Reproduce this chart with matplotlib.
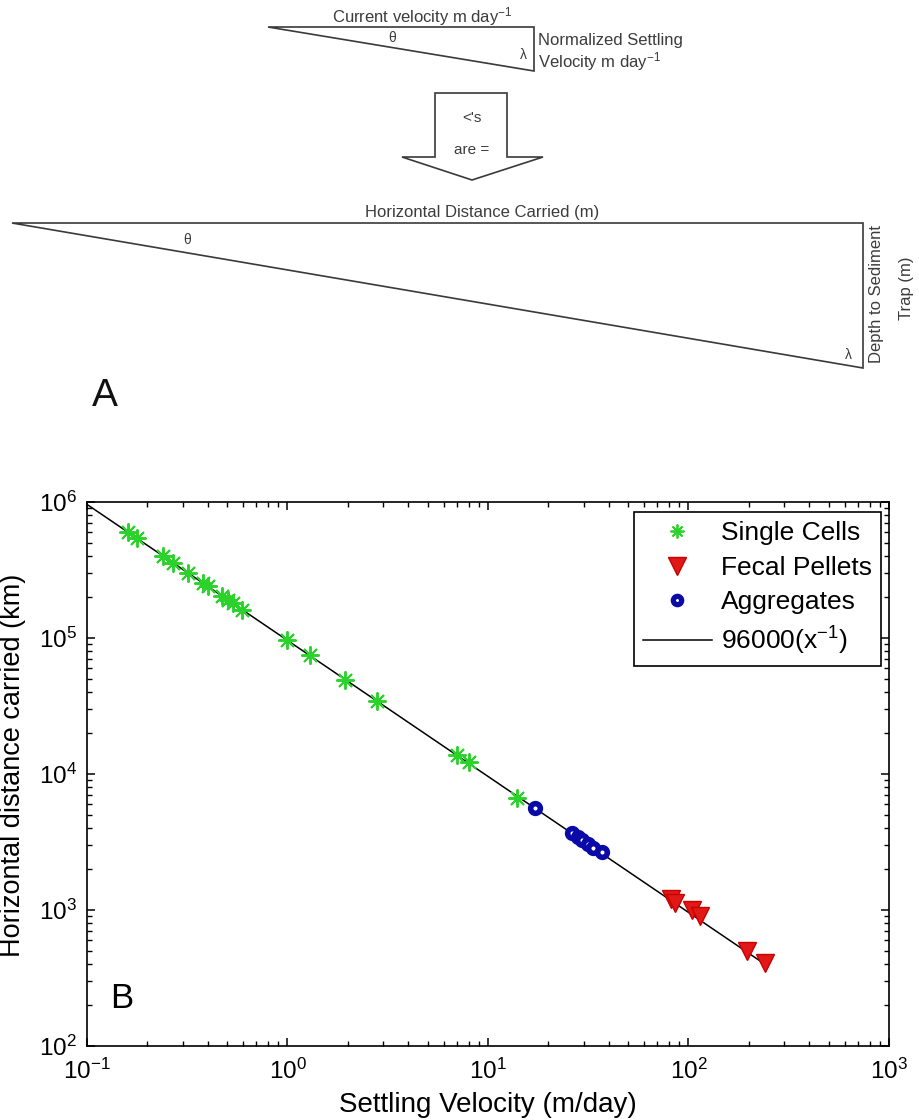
import matplotlib
matplotlib.use("Agg")
import matplotlib.pyplot as plt
from matplotlib.patches import Polygon
from matplotlib.lines import Line2D
from matplotlib.ticker import LogLocator, NullFormatter

plt.rcParams['font.family'] = ['Liberation Sans', 'DejaVu Sans']
plt.rcParams['mathtext.default'] = 'regular'

# ---------------- data (panel B) ----------------
single_x = [0.160, 0.177, 0.239, 0.269, 0.319, 0.379, 0.401, 0.471, 0.505,
            0.534, 0.593, 0.994, 1.29, 1.94, 2.79, 7.0, 8.0, 14.0]
single_y = [600000, 540000, 400000, 355000, 300000, 253000, 240000, 205000,
            190000, 180000, 162000, 96500, 74500, 49500, 34500, 13800, 12200, 6700]

fecal_x = [82, 86, 104, 114, 196, 240]
fecal_y = [1200, 1130, 1000, 900, 500, 410]

agg_x = [17.1, 26.2, 28.0, 29.6, 31.5, 33.5, 37.0]
agg_y = [5650, 3700, 3450, 3250, 3050, 2870, 2650]

fit_coef = 96000
fit_x = [0.1, 240]

legend_labels = ['Single Cells', 'Fecal Pellets', 'Aggregates', '96000(x$^{-1}$)']
xlabel = 'Settling Velocity (m/day)'
ylabel = 'Horizontal distance carried (km)'

# ---------------- figure ----------------
W, H = 920, 1120
fig = plt.figure(figsize=(W / 100, H / 100), dpi=100)

# diagram layer (pixel coordinates)
axd = fig.add_axes([0, 0, 1, 1])
axd.set_xlim(0, W)
axd.set_ylim(H, 0)
axd.axis('off')

dcol = '#3a3a3a'
tcol = '#3c3c3c'
small_tri = [(268, 27), (534, 27), (534, 71)]
big_tri = [(12, 223), (863, 223), (863, 368)]
arrow_pts = [(435, 93), (507, 93), (507, 157), (543, 157), (472, 180),
             (402, 157), (435, 157)]
for pts in (small_tri, big_tri):
    axd.add_patch(Polygon(pts, closed=True, fill=False, edgecolor=dcol, lw=1.2))
axd.add_patch(Polygon(arrow_pts, closed=True, facecolor='white',
                      edgecolor=dcol, lw=1.2))

tfs = 12
axd.text(422, 17, 'Current velocity m day$^{-1}$', ha='center', va='center',
         fontsize=tfs, color=tcol)
axd.text(392, 38, 'θ', ha='center', va='center', fontsize=10, color=tcol)
axd.text(523, 55, 'λ', ha='center', va='center', fontsize=10, color=tcol)
axd.text(538, 40, 'Normalized Settling', ha='left', va='center', fontsize=tfs,
         color=tcol)
axd.text(538, 62, 'Velocity m day$^{-1}$', ha='left', va='center', fontsize=tfs,
         color=tcol)
axd.text(472, 118, "<'s", ha='center', va='center', fontsize=11, color=tcol)
axd.text(472, 150, 'are =', ha='center', va='center', fontsize=11, color=tcol)

axd.text(482, 212, 'Horizontal Distance Carried (m)', ha='center', va='center',
         fontsize=tfs, color=tcol)
axd.text(187, 240, 'θ', ha='center', va='center', fontsize=10, color=tcol)
axd.text(848, 355, 'λ', ha='center', va='center', fontsize=10, color=tcol)
axd.text(877, 294, 'Depth to Sediment', ha='center', va='center', rotation=90,
         fontsize=tfs, color=tcol)
axd.text(907, 288, 'Trap (m)', ha='center', va='center', rotation=90,
         fontsize=tfs, color=tcol)
axd.text(105, 396, 'A', ha='center', va='center', fontsize=28, color='#111111')

# ---------------- panel B ----------------
L, R, T, B = 87, 889, 502, 1046
ax = fig.add_axes([L / W, 1 - B / H, (R - L) / W, (B - T) / H])
ax.set_xscale('log')
ax.set_yscale('log')
ax.set_xlim(0.1, 1000)
ax.set_ylim(100, 1e6)

green = '#2bd22b'
red_face, red_edge = '#e01818', '#c80000'
blue = '#0a0aa8'

fit_y = [fit_coef / v for v in fit_x]
ax.plot(fit_x, fit_y, color='black', lw=1.1, zorder=2)
ax.plot(single_x, single_y, linestyle='none', marker=(8, 2, 0), markersize=13,
        markeredgewidth=1.4, color=green, zorder=3)
ax.plot(fecal_x, fecal_y, linestyle='none', marker='v', markersize=13,
        markerfacecolor=red_face, markeredgecolor=red_edge,
        markeredgewidth=1.0, zorder=3)
ax.plot(agg_x, agg_y, linestyle='none', marker='o', markersize=7,
        markerfacecolor='white', markeredgecolor=blue,
        markeredgewidth=4.0, zorder=4)

for sp in ax.spines.values():
    sp.set_linewidth(1.2)
    sp.set_color('black')

ax.xaxis.set_major_locator(LogLocator(base=10, numticks=10))
ax.yaxis.set_major_locator(LogLocator(base=10, numticks=10))
ax.xaxis.set_minor_locator(LogLocator(base=10, subs=range(2, 10), numticks=20))
ax.yaxis.set_minor_locator(LogLocator(base=10, subs=range(2, 10), numticks=20))
ax.xaxis.set_minor_formatter(NullFormatter())
ax.yaxis.set_minor_formatter(NullFormatter())
ax.tick_params(which='both', direction='in', top=True, right=True,
               colors='black', labelsize=17.5)
ax.tick_params(which='major', length=6, width=1.1)
ax.tick_params(which='minor', length=3.3, width=1.0)
ax.tick_params(axis='x', which='major', pad=9)
ax.tick_params(axis='y', which='major', pad=7)

ax.set_xlabel(xlabel, fontsize=20)
ax.set_ylabel(ylabel, fontsize=19.5)
ax.xaxis.set_label_coords(0.5, -(1092 - B) / (B - T))
ax.yaxis.set_label_coords((26 - L) / (R - L), (B - 765) / (B - T))

ax.text((122 - L) / (R - L), (B - 999) / (B - T), 'B', transform=ax.transAxes,
        ha='center', va='center', fontsize=25)

handles = [
    Line2D([], [], linestyle='none', marker=(8, 2, 0), markersize=10,
           markeredgewidth=1.3, color=green),
    Line2D([], [], linestyle='none', marker='v', markersize=13,
           markerfacecolor=red_face, markeredgecolor=red_edge),
    Line2D([], [], linestyle='none', marker='o', markersize=6,
           markerfacecolor='white', markeredgecolor=blue,
           markeredgewidth=3.8),
    Line2D([], [], color='black', lw=1.1),
]
leg = ax.legend(handles, legend_labels, loc='upper right',
                bbox_to_anchor=((881 - L) / (R - L), (B - 512) / (B - T)),
                borderaxespad=0, fontsize=19, frameon=True, fancybox=False,
                edgecolor='black', framealpha=1, numpoints=1,
                handlelength=2.6, handletextpad=0.35, borderpad=0.35,
                labelspacing=0.4)
leg.get_frame().set_linewidth(1.2)

fig.savefig('out.png', dpi=100)
